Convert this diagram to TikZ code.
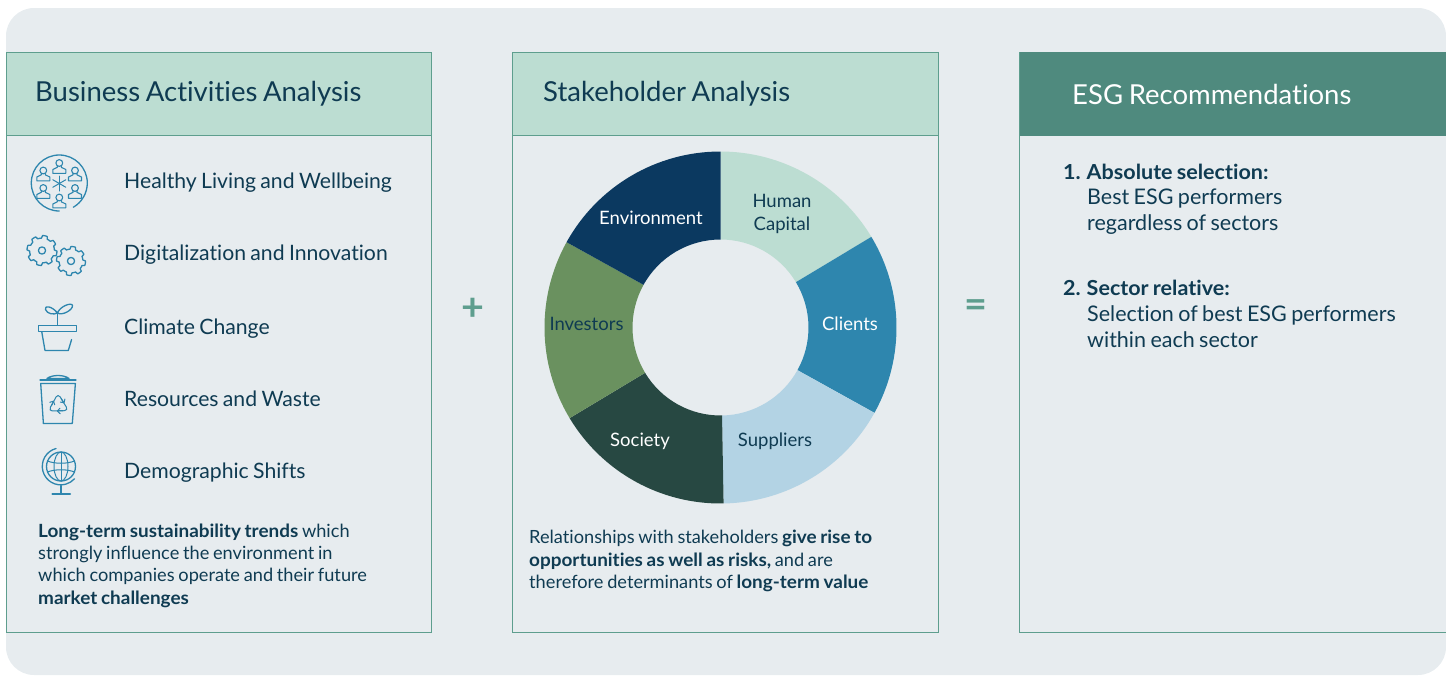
\documentclass[tikz,border=0pt]{standalone}
\usepackage{fontspec}
\setmainfont{Lato}[WordSpace=0.8,Ligatures=NoCommon,BoldFeatures={FakeStretch=1.04}]
\definecolor{bgc}{HTML}{E7ECEF}
\definecolor{hdr}{HTML}{BCDDD2}
\definecolor{hdrd}{HTML}{4F8A7E}
\definecolor{edge}{HTML}{5E9E8E}
\definecolor{ink}{HTML}{0F3B52}
\definecolor{icon}{HTML}{2E86AE}
\definecolor{seg1}{HTML}{BCDDD2}
\definecolor{seg2}{HTML}{2E86AE}
\definecolor{seg3}{HTML}{B3D3E4}
\definecolor{seg4}{HTML}{274842}
\definecolor{seg5}{HTML}{6A915F}
\definecolor{seg6}{HTML}{0B3960}
\definecolor{sym}{HTML}{5E9E8E}
\newcommand{\listbold}[1]{{\fontsize{20.7}{25}\selectfont\bfseries #1}}
\tikzset{
 panel/.style={draw=edge,line width=0.9pt,fill=bgc},
 headbar/.style={draw=edge,line width=0.9pt,fill=hdr},
 headtxt/.style={anchor=base west,inner sep=0,text=ink,font=\fontsize{27.5}{30}\selectfont},
 itemtxt/.style={anchor=base west,inner sep=0,text=ink,font=\fontsize{21.2}{25}\selectfont},
 smalltxt/.style={anchor=base west,inner sep=0,text=ink,font=\fontsize{18.2}{22}\selectfont},
 listtxt/.style={anchor=base west,inner sep=0,text=ink,font=\fontsize{21.5}{25}\selectfont},
 ringtxt/.style={inner sep=0,align=center,font=\fontsize{18.5}{22.5}\selectfont},
 symtxt/.style={inner sep=0,text=sym,font=\bfseries\fontsize{38}{38}\selectfont},
 ic/.style={draw=icon,line width=1.3pt,line cap=round,line join=round},
 person/.pic={
  \draw[ic,line width=1.1pt] (0,-3.5) circle (3.4);
  \draw[ic,line width=1.1pt] (-2,-0.5) -- (-2,0.8) -- (-6.5,3) -- (-6.5,6.8) -- (6.5,6.8) -- (6.5,3) -- (2,0.8) -- (2,-0.5);
 },
}
\newcommand{\gearicon}[4]{%
 \draw[ic] plot[samples=145,domain=0:360] ({#1+(#3-1.3+1.3*max(min(3*sin(8*\x+#4),1),-1))*cos(\x)},{#2+(#3-1.3+1.3*max(min(3*sin(8*\x+#4),1),-1))*sin(\x)}) -- cycle;
 \draw[ic] (#1,#2) circle (3.6);
}
\begin{document}
\begin{tikzpicture}[x=1pt,y=-1pt]
\useasboundingbox (0,0) rectangle (1446,675);
\fill[bgc,rounded corners=28pt] (6,8) rectangle (1446,675);
% panels
\draw[panel] (6,52) rectangle (431.7,632);
\draw[headbar] (6,52) rectangle (431.7,135);
\draw[panel] (512.7,52) rectangle (938.8,632);
\draw[headbar] (512.7,52) rectangle (938.8,135);
\draw[panel] (1019.7,52) -- (1446,52) -- (1446,632) -- (1019.7,632) -- cycle;
\fill[hdrd] (1019.7,52) rectangle (1446,135.5);
% headers
\node[headtxt] (h1) at (35,101) {Business Activities Analysis};
\node[headtxt] (h2) at (543,101) {Stakeholder Analysis};
\node[headtxt,text=white] (h3) at (1072,104.5) {ESG Recommendations};
% items
\node[itemtxt] (i1) at (124,188.5) {Healthy Living and Wellbeing};
\node[itemtxt] (i2) at (124,260.5) {Digitalization and Innovation};
\node[itemtxt] (i3) at (124,334.5) {Climate Change};
\node[itemtxt] (i4) at (124,406.5) {Resources and Waste};
\node[itemtxt] (i5) at (124,478.5) {Demographic Shifts};
% left text
\node[smalltxt] (l1) at (38,537) {\textbf{Long-term sustainability trends} which};
\node[smalltxt] (l2) at (38,559) {strongly influence the environment in};
\node[smalltxt] (l3) at (38,581) {which companies operate and their future};
\node[smalltxt] (l4) at (38,604) {\textbf{market challenges}};
% middle text
\node[smalltxt] (m1) at (529,543) {Relationships with stakeholders \textbf{give rise to}};
\node[smalltxt] (m2) at (529,566) {\textbf{opportunities as well as risks,} and are};
\node[smalltxt] (m3) at (529,588) {therefore determinants of \textbf{long-term value}};
% right text
\node[listtxt] (r1) at (1063,179) {\listbold{1. Absolute selection:}};
\node[listtxt] (r2) at (1087,204.5) {Best ESG performers};
\node[listtxt] (r3) at (1087,230.5) {regardless of sectors};
\node[listtxt] (r4) at (1063,295) {\listbold{2. Sector relative:}};
\node[listtxt] (r5) at (1087,321) {Selection of best ESG performers};
\node[listtxt] (r6) at (1087,347) {within each sector};
% operators
\node[symtxt] (plus) at (473,309) {+};
\node[symtxt] (eq) at (976,309) {=};
% donut
\def\cx{720.5}\def\cy{327.5}\def\ro{176}\def\ri{88}
\foreach \a/\b/\c in {90/31/seg1,31/-29/seg2,-29/-89/seg3,-89/-149/seg4,-149/-209/seg5,-209/-270/seg6}{
 \fill[\c] ({\cx+\ro*cos(\a)},{\cy-\ro*sin(\a)}) arc[start angle=-\a,end angle=-\b,radius=\ro]
   -- ({\cx+\ri*cos(\b)},{\cy-\ri*sin(\b)}) arc[start angle=-\b,end angle=-\a,radius=\ri] -- cycle;
}
\node[ringtxt,text=ink] (s1) at (782,214) {Human\\Capital};
\node[ringtxt,text=white] (s2) at (850,324) {Clients};
\node[ringtxt,text=ink] (s3) at (775,441) {Suppliers};
\node[ringtxt,text=white] (s4) at (640,441) {Society};
\node[ringtxt,text=ink] (s5) at (586.5,324) {Investors};
\node[ringtxt,text=white] (s6) at (651,218) {Environment};
% icon 1
\draw[ic] (59.3,211) arc[start angle=90,end angle=420,radius=28];
\foreach \p in {(59.3,166.5),(43.3,174),(75,174),(43.3,191.5),(75,191.5),(59.3,201)}{ \pic at \p {person}; }
\foreach \t in {90,30,-30}{ \draw[ic,line width=1pt] ({59.3+7.5*cos(\t)},{183.5-7.5*sin(\t)}) -- ({59.3-7.5*cos(\t)},{183.5+7.5*sin(\t)}); }
% icon 2
\gearicon{42}{250.5}{15}{0}
\gearicon{71}{261}{14.5}{20}
% icon 3
\draw[ic] (38.5,325.3) rectangle (76.5,331.5);
\draw[ic] (41.8,332) -- (45,350.5) -- (68.3,350.5) -- (71.6,339.5);
\draw[ic] (57.3,325) -- (57.3,312);
\draw[ic] (57.5,313) .. controls (52,306) and (44,305) .. (45.5,309.5) .. controls (47,314) and (54,315) .. (57.5,313);
\draw[ic] (57.5,313) .. controls (60,306) and (72,302) .. (72.5,305.5) .. controls (73,310) and (62,316) .. (57.5,313);
% icon 4
\draw[ic] (40,380) -- (76,380);
\draw[ic] (47,378.5) .. controls (52,374.5) and (64,374.5) .. (69,378.5) -- cycle;
\draw[ic] (40.7,383.5) -- (43.4,423.5) -- (72.3,423.5) -- (75.4,383.5) -- cycle;
\begin{scope}[shift={(58.3,405)}]
 \foreach \r in {0,120,240}{
  \begin{scope}[rotate=\r]
   \draw[ic,line width=1pt,rounded corners=1.5pt] (-7,1) -- (-1.5,-9.5) -- (1,-9.5) -- (5.5,-2.5);
   \draw[ic,line width=1pt] (2,-3) -- (5.7,-2.2) -- (6.6,-6);
  \end{scope}
 }
\end{scope}
% icon 5
\draw[ic] (61,466.5) circle (14.5);
\draw[ic,line width=1pt] (61,466.5) ellipse (7 and 14.5);
\draw[ic,line width=1pt] (61,452) -- (61,481);
\draw[ic,line width=1pt] (47.5,461) .. controls (55,464) and (67,464) .. (74.5,461);
\draw[ic,line width=1pt] (47.5,472) .. controls (55,469) and (67,469) .. (74.5,472);
\draw[ic] (56,448.5) arc[start angle=-105,end angle=-318,radius=18.5];
\draw[ic] (61,485.5) -- (61,493);
\draw[ic,line width=2.2pt] (52.5,494) -- (70,494);
\end{tikzpicture}
\end{document}
